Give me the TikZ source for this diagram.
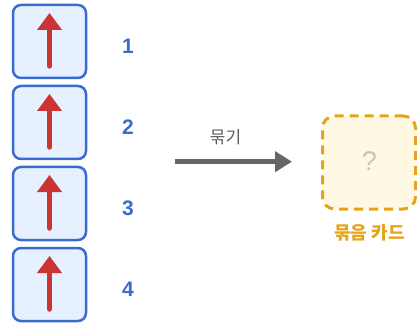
\documentclass[tikz,border=0pt]{standalone}
\usepackage{fontspec}
\setmainfont{Liberation Sans}
\newfontfamily\kr{Noto Sans CJK KR}
\usetikzlibrary{arrows.meta,calc}
\definecolor{cardblue}{HTML}{3A6BCF}
\definecolor{cardfill}{HTML}{E6F0FE}
\definecolor{arrred}{HTML}{CC3333}
\definecolor{arrgray}{HTML}{666666}
\definecolor{bundorange}{HTML}{E6A317}
\definecolor{bundfill}{HTML}{FFF8E3}
\definecolor{qgray}{HTML}{C4C4C4}
\tikzset{
  card/.style={draw=cardblue, fill=cardfill, line width=2.5pt, rounded corners=8pt, minimum width=73pt, minimum height=73pt, inner sep=0pt},
  numlabel/.style={text=cardblue, font=\bfseries\fontsize{21}{21}\selectfont, inner sep=0pt},
  uparrow/.style={draw=arrred, line width=5.5pt, line cap=round, -{Triangle[width=24pt,length=17pt,line cap=butt]}},
  bundle/.style={draw=bundorange, fill=bundfill, line width=3pt, dash pattern=on 9pt off 6pt, rounded corners=12pt, minimum width=93pt, minimum height=93pt, inner sep=0pt},
}
\begin{document}
\begin{tikzpicture}[x=1pt,y=-1pt]
\useasboundingbox (0,0) rectangle (417,323);
\foreach \i/\y in {1/41.5,2/122.5,3/203.5,4/284.5}{
  \node[card] (c\i) at (49.5,\y) {};
  \coordinate (b\i) at ($(c\i.center)+(0,24.5)$);
  \coordinate (t\i) at ($(c\i.center)+(0,-28.5)$);
  \draw[uparrow] (b\i) -- (t\i);
  \node[numlabel] (n\i) at (128,\y+4.5) {\i};
}
\coordinate (as) at (175,161.7);
\coordinate (ae) at (292,161.7);
\draw[draw=arrgray, line width=4.5pt, -{Triangle[width=20pt,length=17pt]}] (as) -- (ae);
\node[text=arrgray!90!black, font=\kr\fontsize{17}{17}\selectfont, inner sep=0pt] (lab) at (225.5,137) {묶기};
\node[bundle] (bund) at (369,162.5) {};
\node[text=qgray, font=\fontsize{27}{27}\selectfont, inner sep=0pt] (q) at (369.5,161) {?};
\node[text=bundorange, font=\kr\bfseries\fontsize{18}{18}\selectfont, inner sep=0pt] (blab) at (369.5,233) {묶음 카드};
\end{tikzpicture}
\end{document}
